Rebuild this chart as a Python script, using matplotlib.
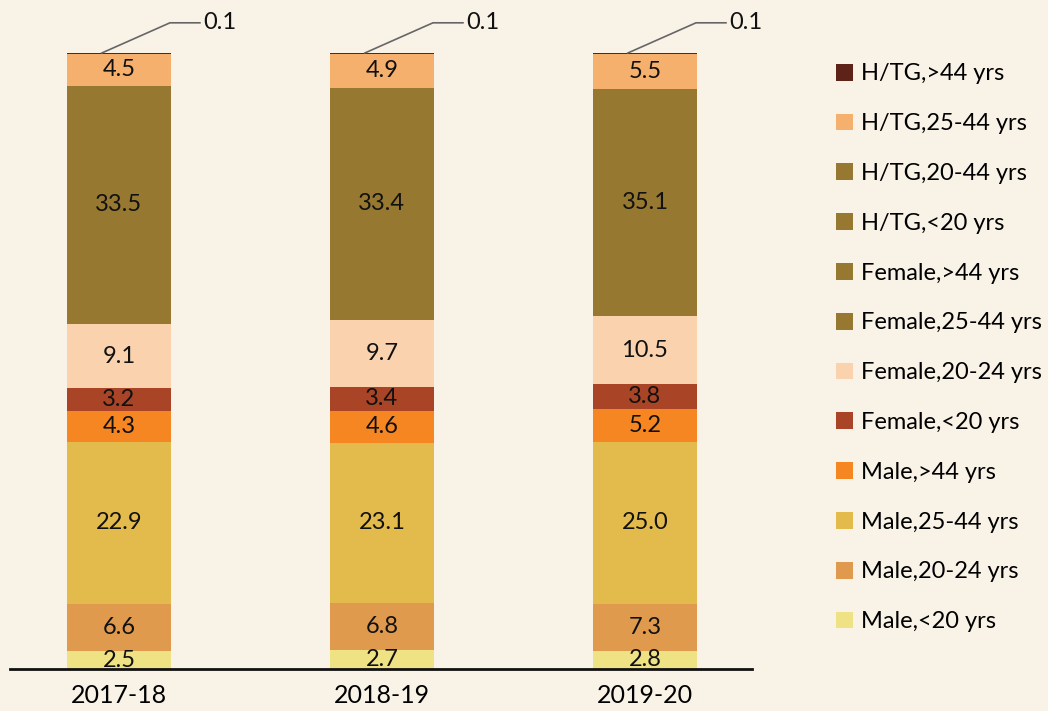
import matplotlib
matplotlib.use("Agg")
import matplotlib.pyplot as plt
import numpy as np

plt.rcParams['font.family'] = ['Lato', 'DejaVu Sans']

years = ["2017-18", "2018-19", "2019-20"]
series = ["Male,<20 yrs", "Male,20-24 yrs", "Male,25-44 yrs", "Male,>44 yrs",
          "Female,<20 yrs", "Female,20-24 yrs", "Female,25-44 yrs", "Female,>44 yrs",
          "H/TG,<20 yrs", "H/TG,20-44 yrs", "H/TG,25-44 yrs", "H/TG,>44 yrs"]
male_lt20 = [2.5, 2.7, 2.8]
male_20_24 = [6.6, 6.8, 7.3]
male_25_44 = [22.9, 23.1, 25.0]
male_gt44 = [4.3, 4.6, 5.2]
female_lt20 = [3.2, 3.4, 3.8]
female_20_24 = [9.1, 9.7, 10.5]
female_25_44 = [33.5, 33.4, 35.1]
female_gt44 = [0, 0, 0]
htg_lt20 = [0, 0, 0]
htg_20_44 = [0, 0, 0]
htg_25_44 = [4.5, 4.9, 5.5]
htg_gt44 = [0.1, 0.1, 0.1]
values = [male_lt20, male_20_24, male_25_44, male_gt44, female_lt20, female_20_24,
          female_25_44, female_gt44, htg_lt20, htg_20_44, htg_25_44, htg_gt44]
colors = ["#EEE285", "#E09A4E", "#E2BB4C", "#F68622", "#A94426", "#FAD3AE",
          "#967830", "#967830", "#967830", "#967830", "#F6B06E", "#5E2318"]

bg = "#F9F2E7"
fig = plt.figure(figsize=(10.48, 7.11), dpi=100, facecolor=bg)
ax = fig.add_axes([10/1048, 42/711, 742/1048, 616/711])
ax.set_facecolor(bg)

vals = np.array(values, dtype=float)
totals = vals.sum(axis=0)
norm = vals / totals
x = np.arange(len(years))
width = 0.395
bottom = np.zeros(len(years))
handles = []
for i, name in enumerate(series):
    b = ax.bar(x, norm[i], width, bottom=bottom, color=colors[i], label=name, linewidth=0)
    handles.append(b)
    for j in range(len(years)):
        v = vals[i, j]
        if v >= 1:
            ax.text(x[j], bottom[j] + norm[i, j] / 2, f"{v:.1f}", ha='center', va='center',
                    fontsize=17, color='#111111')
        elif v > 0:
            y0 = bottom[j] + norm[i, j]
            ax.plot([x[j] - 0.065, x[j] + 0.194, x[j] + 0.308], [y0, 1.049, 1.049],
                    color='#666666', lw=1.2, clip_on=False)
            ax.text(x[j] + 0.32, 1.049, f"{v:.1f}", ha='left', va='center',
                    fontsize=17, color='#111111')
    bottom += norm[i]

ax.set_xlim(-0.414, 2.407)
ax.set_ylim(0, 1)
for s in ['top', 'right', 'left']:
    ax.spines[s].set_visible(False)
ax.spines['bottom'].set_linewidth(2)
ax.spines['bottom'].set_color('#111111')
ax.set_yticks([])
ax.set_xticks(x)
ax.set_xticklabels(years, fontsize=18)
ax.tick_params(axis='x', length=0, pad=11)

leg = fig.legend(handles=handles[::-1], labels=series[::-1], loc='upper left',
                 bbox_to_anchor=(827/1048, 1 - 54/711), frameon=False, fontsize=17,
                 handlelength=0.72, handleheight=0.72, handletextpad=0.3,
                 labelspacing=1.22, borderaxespad=0)
fig.savefig("out.png", dpi=100, facecolor=bg)
